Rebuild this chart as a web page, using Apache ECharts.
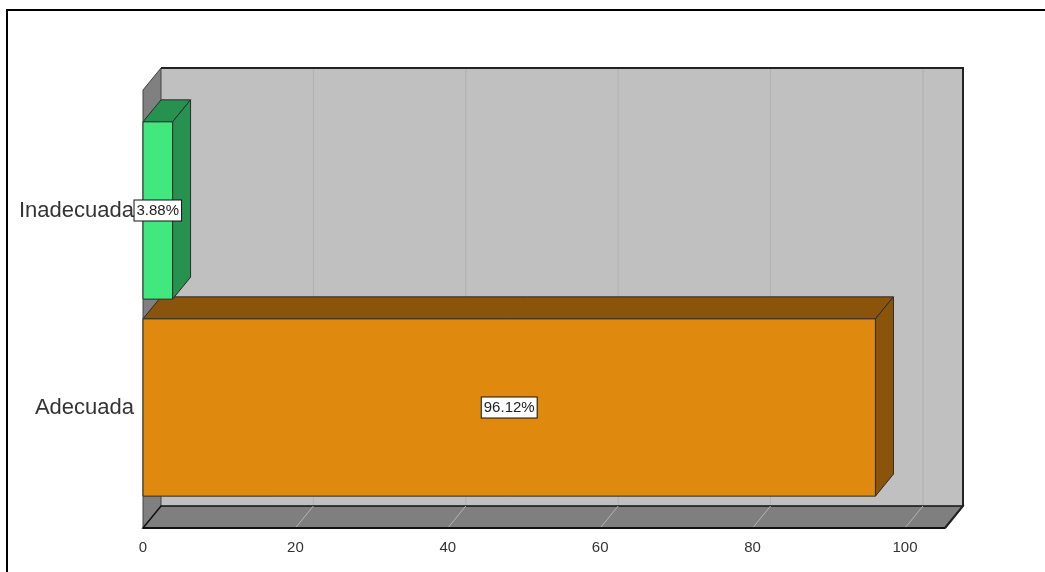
<!DOCTYPE html>
<html>
<head>
<meta charset="utf-8">
<script src="https://cdn.jsdelivr.net/npm/echarts@6/dist/echarts.min.js"></script>
<style>
  html, body { margin: 0; padding: 0; background: #fff; }
  #chart { width: 1045px; height: 572px; }
</style>
</head>
<body>
<div id="chart"></div>
<script>
// Share of responses per category (percent)
const categories = ['Adecuada', 'Inadecuada'];
const percentages = [96.12, 3.88];
const xTickValues = [0, 20, 40, 60, 80, 100];

const frontColors = ['#e0890f', '#41e87e'];
const shadeColors = ['#8a550a', '#279150'];
const DX = 18, DY = 22;            // depth offset of the 3D box
const FONT = '"Liberation Sans", Arial, sans-serif';
const EDGE = '#2b2b2b';

// Back wall, left wall, floor and grid lines of the 3D frame
function renderFrame(params, api) {
  const cs = params.coordSys;
  const x0 = cs.x, x1 = cs.x + cs.width;
  const yT = cs.y - DY, yB = cs.y + cs.height + DY;
  const kids = [];
  kids.push({ type: 'rect', shape: { x: x0 + DX, y: yT - DY, width: x1 - x0, height: yB - yT },
              style: { fill: '#c0c0c0' } });
  xTickValues.forEach(function (v) {
    if (v === 0) return;
    const px = api.coord([v, 0])[0];
    kids.push({ type: 'line', shape: { x1: px + DX, y1: yT - DY, x2: px + DX, y2: yB - DY },
                style: { stroke: '#b0b0b0', lineWidth: 1 } });
  });
  kids.push({ type: 'polygon',
              shape: { points: [[x0, yT], [x0 + DX, yT - DY], [x0 + DX, yB - DY], [x0, yB]] },
              style: { fill: '#808080', stroke: '#444', lineWidth: 1 } });
  kids.push({ type: 'polygon',
              shape: { points: [[x0, yB], [x0 + DX, yB - DY], [x1 + DX, yB - DY], [x1, yB]] },
              style: { fill: '#7f7f7f', stroke: '#111', lineWidth: 1.5 } });
  xTickValues.forEach(function (v) {
    if (v === 0) return;
    const px = api.coord([v, 0])[0];
    kids.push({ type: 'line', shape: { x1: px, y1: yB, x2: px + DX, y2: yB - DY },
                style: { stroke: '#b4b4b4', lineWidth: 1 } });
  });
  kids.push({ type: 'line', shape: { x1: x0, y1: yB, x2: x1, y2: yB },
              style: { stroke: '#111', lineWidth: 2 } });
  kids.push({ type: 'polyline',
              shape: { points: [[x0 + DX, yT - DY], [x1 + DX, yT - DY], [x1 + DX, yB - DY], [x1, yB]] },
              style: { stroke: '#222', lineWidth: 2, fill: null } });
  return { type: 'group', children: kids };
}

// One 3D bar: front face, top face and right side face
function renderBar(params, api) {
  const value = api.value(0);
  const cat = api.value(1);
  const i = params.dataIndex;
  const start = api.coord([0, cat]);
  const end = api.coord([value, cat]);
  const h = api.size([0, 1])[1] * 0.9;
  const x0 = start[0], x1 = end[0];
  const yTop = start[1] - h / 2, yBot = start[1] + h / 2;
  return {
    type: 'group',
    children: [
      { type: 'polygon',
        shape: { points: [[x0, yTop], [x0 + DX, yTop - DY], [x1 + DX, yTop - DY], [x1, yTop]] },
        style: { fill: shadeColors[i], stroke: EDGE, lineWidth: 1 } },
      { type: 'polygon',
        shape: { points: [[x1, yTop], [x1 + DX, yTop - DY], [x1 + DX, yBot - DY], [x1, yBot]] },
        style: { fill: shadeColors[i], stroke: EDGE, lineWidth: 1 } },
      { type: 'rect',
        shape: { x: x0, y: yTop, width: x1 - x0, height: h },
        style: { fill: frontColors[i], stroke: EDGE, lineWidth: 1 },
        textContent: {
          style: {
            text: value.toFixed(2) + '%',
            font: '15px ' + FONT,
            fill: '#222',
            backgroundColor: '#fff',
            borderColor: '#111',
            borderWidth: 1,
            padding: [3, 2, 2, 2]
          }
        },
        textConfig: { position: 'inside' }
      }
    ]
  };
}

const chart = echarts.init(document.getElementById('chart'), null, { renderer: 'canvas' });
chart.setOption({
  animation: false,
  backgroundColor: '#fff',
  graphic: [{
    type: 'rect', silent: true, z: 100,
    shape: { x: 7, y: 10, width: 1100, height: 600 },
    style: { fill: null, stroke: '#000', lineWidth: 2 }
  }],
  grid: { left: 143, right: 100, top: 112, bottom: 66 },
  xAxis: {
    type: 'value', min: 0, max: 105.25, interval: 20,
    axisLine: { show: false }, axisTick: { show: false }, splitLine: { show: false },
    axisLabel: {
      margin: 34, color: '#333', fontSize: 15, fontFamily: FONT,
      formatter: function (v) { return xTickValues.indexOf(v) >= 0 ? String(v) : ''; }
    }
  },
  yAxis: {
    type: 'category', data: categories,
    axisLine: { show: false }, axisTick: { show: false }, splitLine: { show: false },
    axisLabel: { margin: 9, color: '#333', fontSize: 22, fontFamily: FONT, padding: [5, 0, 0, 0] }
  },
  series: [
    { type: 'custom', silent: true, z: 1, renderItem: renderFrame, data: [[0, 0]],
      encode: { x: 0, y: 1 } },
    { type: 'custom', z: 2, renderItem: renderBar,
      data: percentages.map(function (v, i) { return [v, i]; }),
      encode: { x: 0, y: 1 } }
  ]
});
</script>
</body>
</html>
